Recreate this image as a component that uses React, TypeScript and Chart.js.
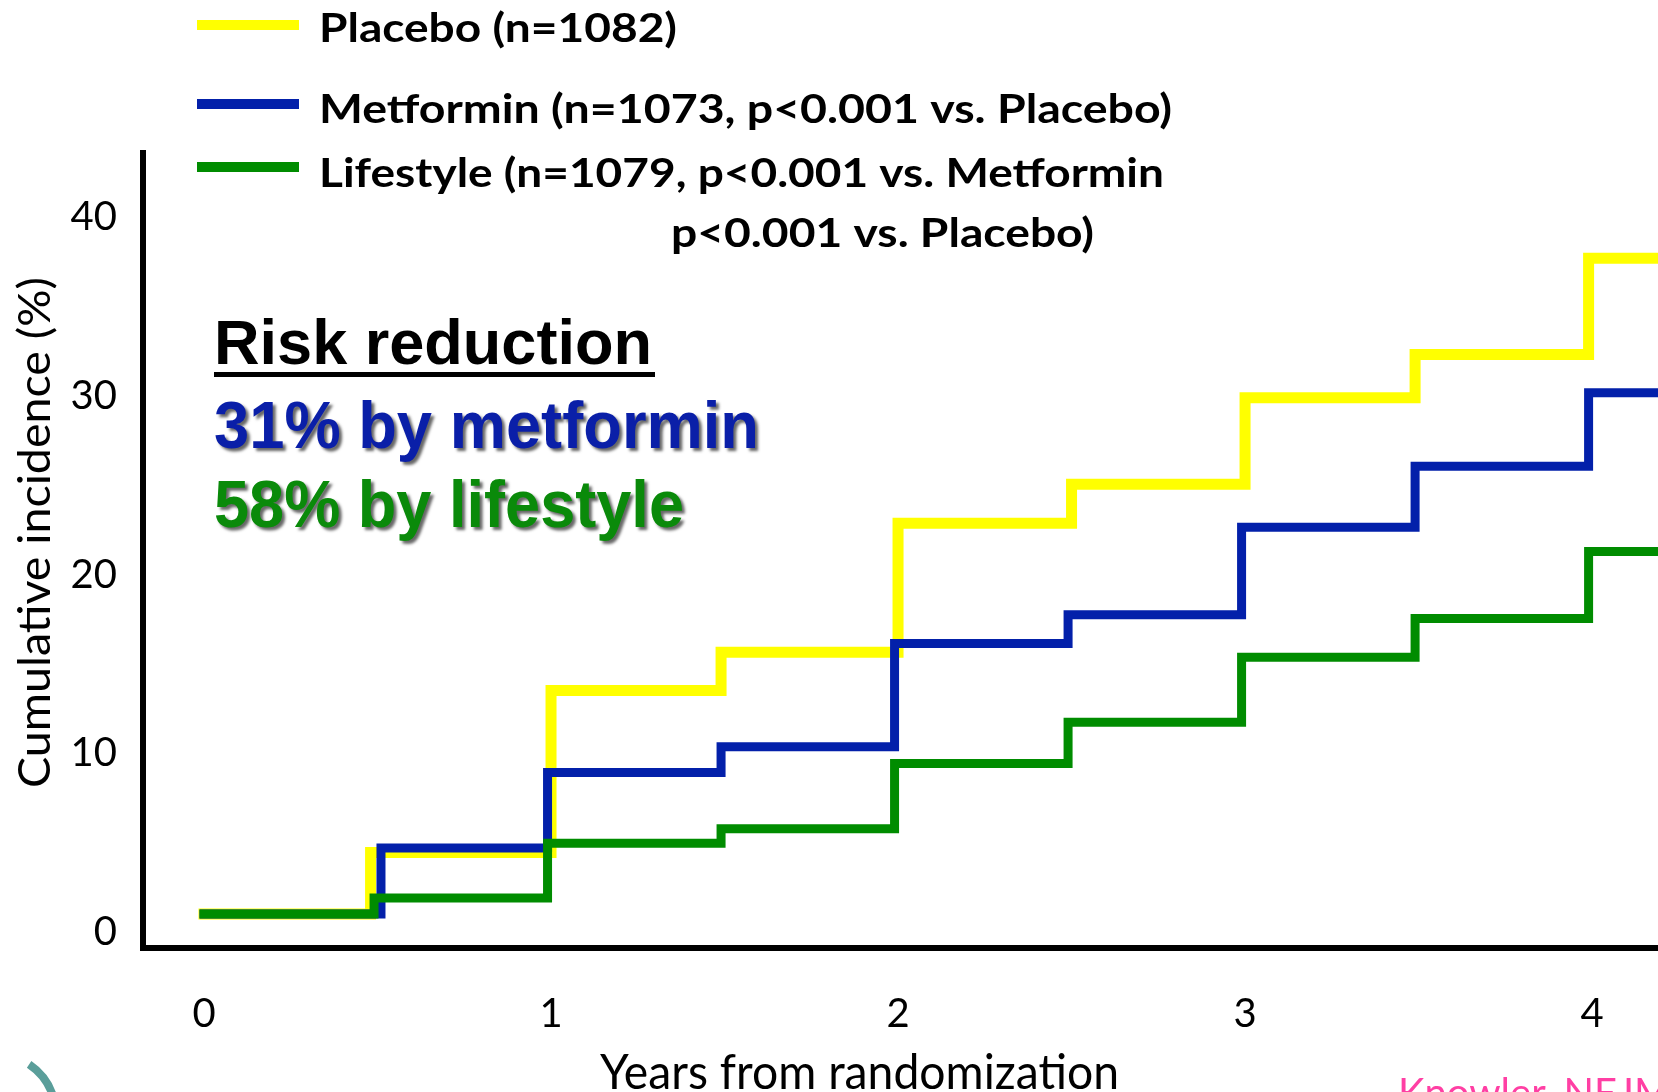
import React, { useEffect, useRef } from "react";
import { Chart, registerables } from "chart.js";

Chart.register(...registerables);

// ---- data ----
const xTickValues = [0, 1, 2, 3, 4];
const yTickValues = [0, 10, 20, 30, 40];

const placeboYears = [0, 0.48, 1.0, 1.49, 2.0, 2.5, 3.0, 3.49, 3.99, 4.3];
const placeboIncidence = [1.0, 4.45, 13.52, 15.65, 22.87, 25.06, 29.9, 32.32, 37.71, 37.71];

const metforminYears = [0, 0.51, 0.99, 1.49, 1.99, 2.49, 2.99, 3.49, 3.99, 4.3];
const metforminIncidence = [1.0, 4.7, 8.93, 10.36, 16.15, 17.75, 22.65, 26.06, 30.18, 30.18];

const lifestyleYears = [0, 0.49, 0.99, 1.49, 1.99, 2.49, 2.99, 3.49, 3.99, 4.3];
const lifestyleIncidence = [1.0, 1.9, 4.96, 5.77, 9.43, 11.73, 15.37, 17.55, 21.3, 21.3];

const legendLabels = [
  "Placebo (n=1082)",
  "Metformin (n=1073, p<0.001 vs. Placebo)",
  "Lifestyle (n=1079, p<0.001 vs. Metformin",
  "p<0.001 vs. Placebo)",
];
const riskTitle = "Risk reduction";
const riskLines = ["31% by metformin", "58% by lifestyle"];
const yAxisTitle = "Cumulative incidence (%)";
const xAxisTitle = "Years from randomization";
const sourceNote = "Knowler, NEJM";

// ---- style ----
const YELLOW = "#FFFF00";
const BLUE = "#0320AA";
const GREEN = "#008C00";

function drawFitted(
  ctx: CanvasRenderingContext2D,
  text: string,
  x: number,
  baseline: number,
  font: string,
  targetWidth: number,
  color: string,
  shadow?: boolean
) {
  ctx.save();
  ctx.font = font;
  const w = ctx.measureText(text).width;
  const sx = targetWidth / w;
  ctx.translate(x, baseline);
  ctx.scale(sx, 1);
  ctx.textAlign = "left";
  ctx.textBaseline = "alphabetic";
  ctx.fillStyle = color;
  if (shadow) {
    ctx.shadowColor = "rgba(0,0,0,0.6)";
    ctx.shadowOffsetX = 3;
    ctx.shadowOffsetY = 3;
    ctx.shadowBlur = 3;
  }
  ctx.fillText(text, 0, 0);
  ctx.restore();
}

const annotationPlugin = {
  id: "annotations",
  afterDraw(chart: any) {
    const ctx: CanvasRenderingContext2D = chart.ctx;
    ctx.save();

    // legend samples
    const sampleY = [25, 104, 167];
    const sampleColors = [YELLOW, BLUE, GREEN];
    sampleY.forEach((y, i) => {
      ctx.fillStyle = sampleColors[i];
      ctx.fillRect(197, y - 5, 102, 10);
    });

    const legFont = "bold 40px Lato";
    drawFitted(ctx, legendLabels[0], 319, 42, legFont, 358, "#000");
    drawFitted(ctx, legendLabels[1], 319, 123, legFont, 853, "#000");
    drawFitted(ctx, legendLabels[2], 319, 187, legFont, 845, "#000");
    drawFitted(ctx, legendLabels[3], 671, 247, legFont, 423, "#000");

    // risk reduction block
    drawFitted(ctx, riskTitle, 214, 364, "bold 63px 'Liberation Sans'", 438, "#000");
    ctx.fillStyle = "#000";
    ctx.fillRect(214, 372, 441, 5);
    drawFitted(ctx, riskLines[0], 214, 448, "bold 66px 'Liberation Sans'", 545, "#0A1FA8", true);
    drawFitted(ctx, riskLines[1], 214, 527, "bold 66px 'Liberation Sans'", 470, "#0A8A0A", true);

    // y axis title (rotated)
    ctx.save();
    ctx.translate(50, 788);
    ctx.rotate(-Math.PI / 2);
    drawFitted(ctx, yAxisTitle, 0, 0, "44px Lato", 511, "#000");
    ctx.restore();

    // x axis title
    drawFitted(ctx, xAxisTitle, 600, 1089, "48px Lato", 519, "#000");

    // source note (cut off at bottom)
    ctx.font = "40px Lato";
    ctx.fillStyle = "#FF3FA4";
    ctx.textBaseline = "alphabetic";
    ctx.fillText(sourceNote, 1398, 1107);

    // logo arc fragment
    ctx.beginPath();
    ctx.strokeStyle = "#5A9E9A";
    ctx.lineWidth = 8;
    ctx.arc(-5, 1115, 61, (-56 * Math.PI) / 180, (-15 * Math.PI) / 180);
    ctx.stroke();

    ctx.restore();
  },
};

export default function App() {
  const ref = useRef<HTMLCanvasElement | null>(null);

  useEffect(() => {
    document.body.style.margin = "0";
    const canvas = ref.current!;
    const toPts = (xs: number[], ys: number[]) => xs.map((x, i) => ({ x, y: ys[i] }));
    const common = {
      stepped: "before" as const,
      pointRadius: 0,
      fill: false,
      borderJoinStyle: "miter" as const,
      borderCapStyle: "square" as const,
      tension: 0,
    };
    const chart = new Chart(canvas, {
      type: "line",
      data: {
        datasets: [
          { label: "Placebo", data: toPts(placeboYears, placeboIncidence), borderColor: YELLOW, backgroundColor: YELLOW, borderWidth: 11, order: 3, ...common },
          { label: "Metformin", data: toPts(metforminYears, metforminIncidence), borderColor: BLUE, backgroundColor: BLUE, borderWidth: 9, order: 2, ...common },
          { label: "Lifestyle", data: toPts(lifestyleYears, lifestyleIncidence), borderColor: GREEN, backgroundColor: GREEN, borderWidth: 9, order: 1, ...common },
        ],
      },
      options: {
        animation: false,
        responsive: false,
        devicePixelRatio: 1,
        layout: { padding: { top: 153, left: 0, right: 0, bottom: 0 } },
        plugins: {
          legend: { display: false },
          tooltip: { enabled: false },
          title: { display: false },
        },
        scales: {
          x: {
            type: "linear",
            min: -0.1758,
            max: 4.19,
            grid: { display: false, drawTicks: false, lineWidth: 6 },
            border: { display: true, color: "#000", width: 6 },
            ticks: { font: { family: "Lato", size: 40 }, color: "#000", padding: 42 },
            afterBuildTicks: (s: any) => {
              s.ticks = xTickValues.map((v) => ({ value: v }));
            },
            afterFit: (s: any) => {
              s.height = 144;
            },
          },
          y: {
            type: "linear",
            min: -0.9,
            max: 43.6,
            grid: { display: false, drawTicks: false, lineWidth: 6 },
            border: { display: true, color: "#000", width: 6 },
            ticks: { font: { family: "Lato", size: 40 }, color: "#000", padding: 26 },
            afterBuildTicks: (s: any) => {
              s.ticks = yTickValues.map((v) => ({ value: v }));
            },
            afterFit: (s: any) => {
              s.width = 143;
            },
          },
        },
      },
      plugins: [annotationPlugin],
    });
    return () => chart.destroy();
  }, []);

  return (
    <div style={{ position: "fixed", left: 0, top: 0, width: 1658, height: 1092, background: "#fff", overflow: "hidden" }}>
      <canvas ref={ref} width={1658} height={1092} style={{ display: "block", width: 1658, height: 1092 }} />
    </div>
  );
}
